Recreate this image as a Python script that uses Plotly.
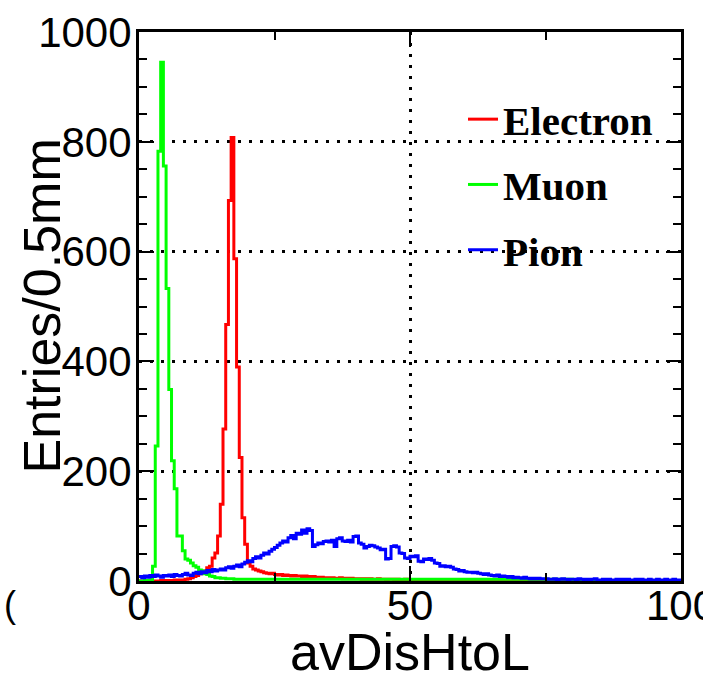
import plotly.graph_objects as go

# ---------------- data ----------------
bin_width = 0.5  # mm, 200 bins from 0 to 100
n_bins = 200

electron = [
    0, 0, 0, 0, 0, 0, 0, 0, 1, 0,
    1, 1, 1, 2, 1, 2, 2, 3, 4, 6,
    8, 10, 13, 17, 18, 24, 27, 42, 51, 82,
    140, 277, 467, 693, 808, 587, 390, 225, 115, 67,
    33, 27, 22, 20, 18, 17, 15, 14, 13, 14,
    12, 11, 12, 10, 11, 10, 9, 10, 9, 9,
    8, 9, 8, 7, 8, 7, 6, 7, 6, 6,
    5, 6, 5, 5, 6, 4, 5, 4, 5, 4,
    4, 4, 3, 4, 3, 4, 3, 3, 4, 3,
    3, 2, 3, 3, 2, 3, 2, 2, 3, 2,
    2, 2, 1, 2, 2, 1, 2, 1, 1, 2,
    1, 1, 1, 2, 1, 1, 1, 0, 1, 1,
    1, 0, 1, 1, 0, 1, 0, 0, 1, 0,
    0, 0, 0, 0, 0, 0, 0, 0, 0, 0,
    0, 0, 0, 0, 0, 0, 0, 0, 0, 0,
    0, 0, 0, 0, 0, 0, 0, 0, 0, 0,
    0, 0, 0, 0, 0, 0, 0, 0, 0, 0,
    0, 0, 0, 0, 0, 0, 0, 0, 0, 0,
    0, 0, 0, 0, 0, 0, 0, 0, 0, 0,
    0, 0, 0, 0, 0, 0, 0, 0, 0, 0,
]

muon = [
    0, 0, 1, 1, 2, 27, 246, 783, 945, 756,
    533, 349, 219, 168, 82, 82, 55, 40, 38, 33,
    28, 25, 20, 18, 13, 12, 9, 8, 6, 6,
    5, 5, 4, 4, 4, 3, 3, 3, 3, 3,
    3, 3, 3, 3, 3, 3, 3, 3, 3, 3,
    3, 3, 3, 3, 3, 3, 3, 3, 3, 3,
    3, 3, 3, 3, 3, 3, 3, 3, 3, 3,
    3, 3, 3, 3, 3, 3, 3, 3, 3, 3,
    3, 3, 3, 3, 3, 3, 3, 3, 3, 3,
    3, 3, 3, 3, 3, 3, 3, 3, 3, 3,
    3, 3, 3, 3, 3, 3, 3, 3, 3, 3,
    3, 3, 3, 3, 3, 3, 3, 3, 3, 3,
    3, 3, 3, 3, 3, 3, 3, 3, 3, 3,
    3, 3, 3, 3, 3, 3, 3, 3, 3, 3,
    3, 3, 3, 3, 3, 3, 3, 3, 3, 3,
    3, 3, 3, 3, 3, 3, 3, 3, 3, 3,
    2, 2, 2, 0, 0, 0, 0, 0, 0, 0,
    0, 0, 0, 0, 0, 0, 0, 0, 0, 0,
    0, 0, 0, 0, 0, 0, 0, 0, 0, 0,
    0, 0, 0, 0, 0, 0, 0, 0, 0, 0,
]

pion = [
    8, 6, 9, 7, 10, 8, 11, 9, 7, 10,
    9, 11, 8, 12, 10, 9, 12, 14, 11, 10,
    14, 16, 13, 17, 15, 19, 17, 21, 18, 20,
    22, 20, 24, 26, 23, 27, 29, 26, 31, 34,
    37, 35, 41, 44, 42, 47, 51, 49, 54, 58,
    61, 65, 69, 73, 71, 79, 83, 77, 87, 85,
    93, 87, 95, 92, 63, 66, 69, 68, 72, 73,
    71, 74, 63, 77, 79, 73, 72, 74, 71, 81,
    82, 69, 67, 60, 63, 65, 64, 62, 60, 57,
    58, 40, 41, 63, 64, 62, 51, 50, 42, 41,
    45, 44, 46, 36, 35, 40, 39, 41, 38, 33,
    32, 27, 28, 26, 27, 25, 22, 21, 18, 19,
    17, 16, 16, 15, 16, 14, 13, 12, 13, 11,
    10, 9, 11, 8, 9, 8, 7, 8, 6, 7,
    6, 5, 7, 5, 4, 5, 4, 5, 4, 4,
    4, 3, 3, 4, 2, 3, 4, 3, 2, 3,
    3, 2, 4, 3, 2, 3, 2, 3, 4, 2,
    2, 3, 2, 3, 2, 2, 3, 2, 3, 2,
    3, 2, 2, 3, 2, 3, 2, 2, 3, 2,
    2, 3, 2, 2, 3, 2, 2, 3, 2, 2,
]

series_names = ["Electron", "Muon", "Pion"]
series_values = [electron, muon, pion]
series_colors = ["#ff0000", "#00ff00", "#0000ff"]

x_ticks = [0, 50, 100]
y_ticks = [0, 200, 400, 600, 800, 1000]

# ---------------- figure ----------------
edges = [i * bin_width for i in range(n_bins + 1)]

fig = go.Figure()
for name, vals, col in zip(series_names, series_values, series_colors):
    fig.add_trace(go.Scatter(
        x=edges,
        y=list(vals) + [vals[-1]],
        mode="lines",
        name=name,
        legendgroup=name,
        line=dict(shape="hv", color=col, width=3),
    ))

W, H = 703, 681
ml, mr, mt, mb = 139, 22, 32, 100
pw = W - ml - mr
ph = H - mt - mb

tick_font = dict(family="Liberation Sans, Arial, sans-serif", size=42, color="black")
title_font = dict(family="Liberation Sans, Arial, sans-serif", size=52, color="black")

axis_common = dict(
    showline=True, linecolor="black", linewidth=3, mirror="ticks",
    ticks="inside", ticklen=15, tickwidth=2, tickcolor="black",
    showgrid=True, gridcolor="black", gridwidth=2.5, griddash="3px,8px",
    zeroline=False, tickfont=tick_font, ticklabeloverflow="allow",
)

fig.update_xaxes(
    range=[0, 100], tickvals=x_ticks, ticktext=[str(v) for v in x_ticks],
    minor=dict(dtick=25, tick0=0, ticks="inside", ticklen=8, tickwidth=2,
               tickcolor="black", showgrid=False),
    ticklabelstandoff=-14,
    title=dict(text="avDisHtoL", font=title_font, standoff=4),
    **axis_common,
)
fig.update_yaxes(
    range=[0, 1000], tickvals=y_ticks, ticktext=[str(v) for v in y_ticks],
    minor=dict(dtick=50, tick0=0, ticks="inside", ticklen=8, tickwidth=2,
               tickcolor="black", showgrid=False),
    ticklabelstandoff=-4,
    **axis_common,
)

fig.update_layout(
    width=W, height=H,
    margin=dict(l=ml, r=mr, t=mt, b=mb, autoexpand=False),
    paper_bgcolor="white", plot_bgcolor="white",
    showlegend=True,
    legend=dict(
        x=(463 - ml) / pw, y=(H - mb - 86) / ph, xanchor="left", yanchor="top",
        bgcolor="rgba(0,0,0,0)", borderwidth=0,
        font=dict(family="Liberation Serif, Times New Roman, serif", size=41,
                  color="black", weight="bold"),
        tracegroupgap=9, traceorder="grouped",
    ),
    annotations=[
        dict(text="Entries/0.5mm", textangle=-90, xref="paper", yref="paper",
             x=(41 - ml) / pw, y=0.5, xanchor="center", yanchor="middle",
             showarrow=False, font=title_font),
        dict(text="(", xref="paper", yref="paper",
             x=(10 - ml) / pw, y=(H - mb - 604) / ph, xanchor="center",
             yanchor="middle", showarrow=False,
             font=dict(family="Liberation Sans, Arial, sans-serif", size=36, color="black")),
    ],
)

fig.write_html("out.html")
